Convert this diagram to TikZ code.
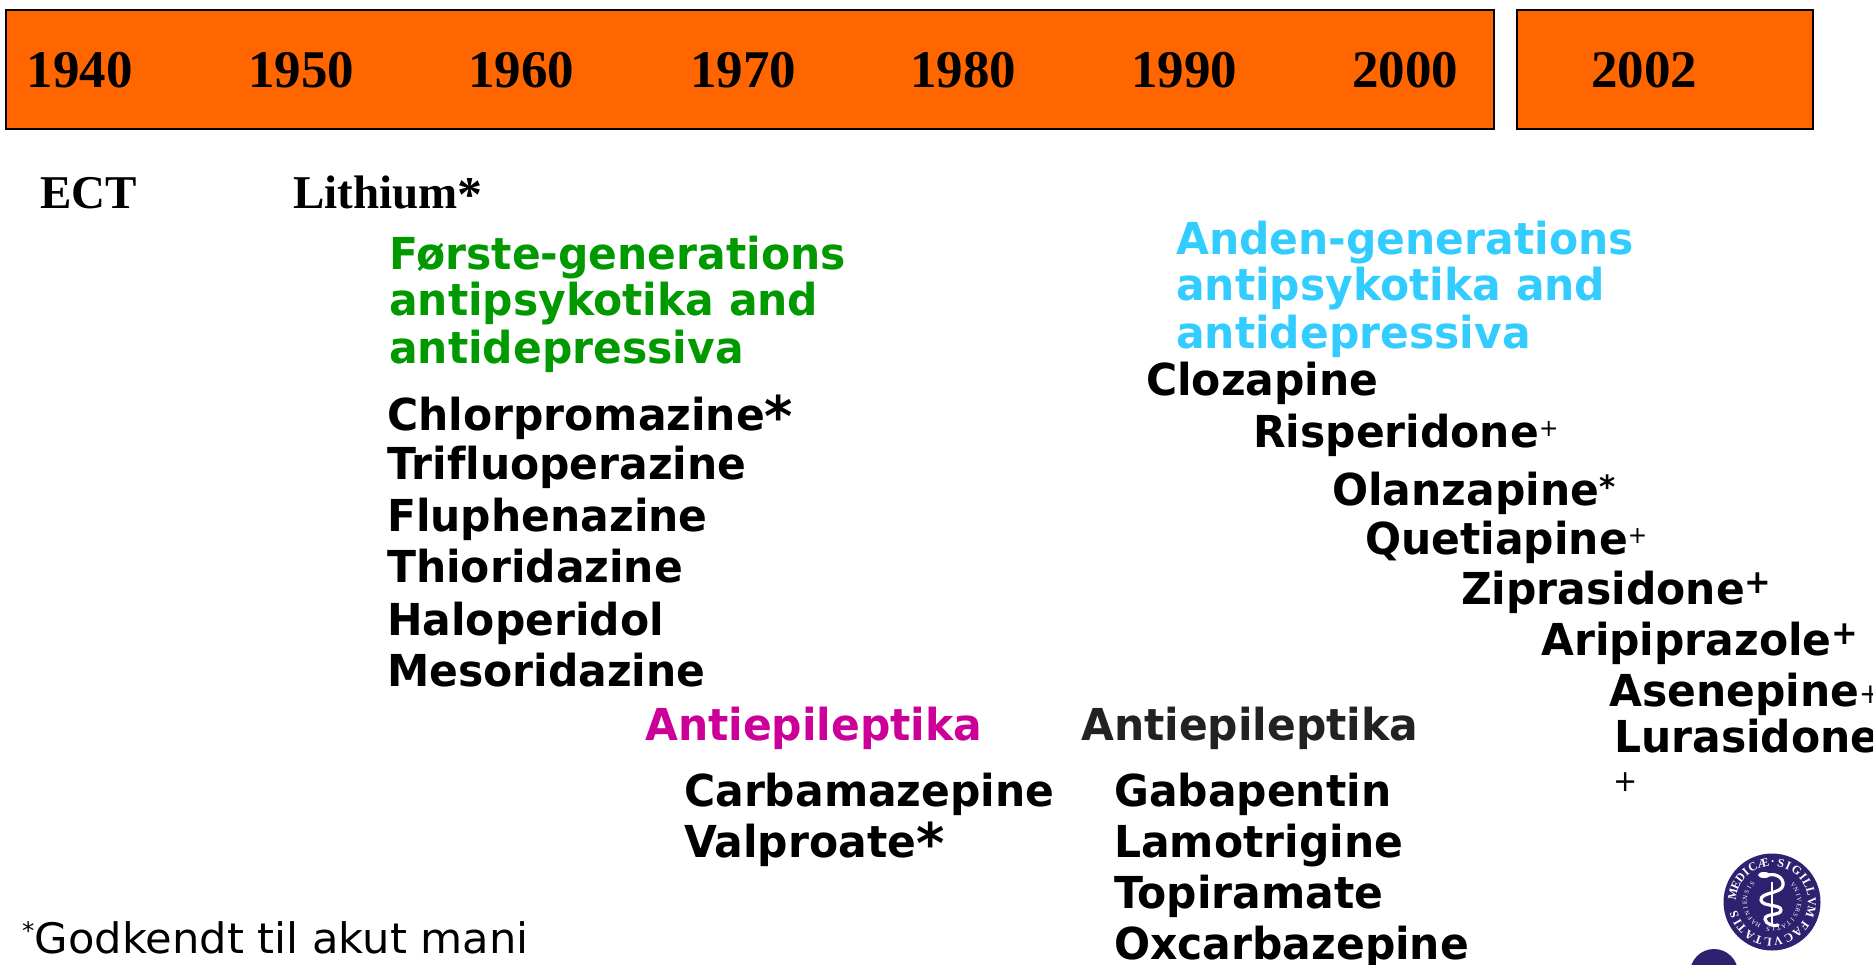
\documentclass[tikz,border=0pt]{standalone}
\usepackage{fontspec}
\setmainfont{DejaVu Sans}[RawFeature={-liga}]
\newfontfamily\timesfont{Liberation Serif}
\definecolor{barorange}{HTML}{FF6600}
\definecolor{firstgreen}{HTML}{009900}
\definecolor{secondblue}{HTML}{33CCFF}
\definecolor{epipink}{HTML}{CC0099}
\definecolor{epigrey}{HTML}{222222}
\definecolor{sealblue}{HTML}{2E2270}
\newcommand{\supplus}{\raisebox{11pt}{\fontsize{24}{24}\selectfont\mdseries +}}
\newcommand{\boldplus}{\raisebox{11pt}{\fontsize{33}{33}\selectfont +}}
\newcommand{\bigast}{\raisebox{-6pt}{\fontsize{56}{56}\selectfont *}}

\begin{document}
\begin{tikzpicture}[x=1pt, y=-1pt,
	yearbar/.style={draw=black, line width=2.5pt, fill=barorange},
	year/.style={anchor=base, inner sep=0pt, font=\timesfont\bfseries\fontsize{53}{53}\selectfont},
	early/.style={anchor=base west, inner sep=0pt, font=\timesfont\bfseries\fontsize{47}{47}\selectfont},
	drug/.style={anchor=base west, inner sep=0pt, xscale=0.965, font=\bfseries\fontsize{44}{44}\selectfont},
	sealletter/.style={anchor=base, inner sep=0pt, white, font=\timesfont\bfseries\fontsize{12}{12}\selectfont},
	sealsmall/.style={anchor=base, inner sep=0pt, white, font=\timesfont\fontsize{6.5}{6.5}\selectfont}]
	\useasboundingbox (0,0) rectangle (1873,964);
	
	% tidslinje
	\draw[yearbar] (6,10) rectangle (1494,129);
	\draw[yearbar] (1517,10) rectangle (1813,129);
	\node[year] (y1940) at (80,87) {1940};
	\node[year] (y1950) at (301,87) {1950};
	\node[year] (y1960) at (521,87) {1960};
	\node[year] (y1970) at (743,87) {1970};
	\node[year] (y1980) at (963,87) {1980};
	\node[year] (y1990) at (1184,87) {1990};
	\node[year] (y2000) at (1405,87) {2000};
	\node[year] (y2002) at (1644,87) {2002};
	
	% de tidlige behandlinger
	\node[early] (ect) at (40,208) {ECT};
	\node[early] (lithium) at (293,208) {Lithium\raisebox{-3pt}{\fontsize{50}{50}\selectfont *}};
	
	% foerste generation
	\node[drug, firstgreen] (first1) at (389,269) {Første-generations};
	\node[drug, firstgreen] (first2) at (389,315) {antipsykotika and};
	\node[drug, firstgreen] (first3) at (389,363) {antidepressiva};
	\node[drug] (chlor) at (387,430) {Chlorpromazine\bigast};
	\node[drug] (trifluo) at (387,479) {Trifluoperazine};
	\node[drug] (fluphen) at (387,531) {Fluphenazine};
	\node[drug] (thiorid) at (387,582) {Thioridazine};
	\node[drug] (halo) at (387,635) {Haloperidol};
	\node[drug] (meso) at (387,686) {Mesoridazine};
	
	% antiepileptika
	\node[drug, epipink] (epi1) at (645,740) {Antiepileptika};
	\node[drug] (carba) at (684,806) {Carbamazepine};
	\node[drug] (valpro) at (684,857) {Valproate\bigast};
	\node[drug, epigrey] (epi2) at (1081,740) {Antiepileptika};
	\node[drug] (gaba) at (1114,806) {Gabapentin};
	\node[drug] (lamo) at (1114,857) {Lamotrigine};
	\node[drug] (topi) at (1114,908) {Topiramate};
	\node[drug] (oxcarb) at (1114,959) {Oxcarbazepine};
	
	% anden generation
	\node[drug, secondblue] (second1) at (1176,254) {Anden-generations};
	\node[drug, secondblue] (second2) at (1176,300) {antipsykotika and};
	\node[drug, secondblue] (second3) at (1176,348) {antidepressiva};
	\node[drug] (cloza) at (1146,395) {Clozapine};
	\node[drug] (risper) at (1253,447) {Risperidone\supplus};
	\node[drug] (olanza) at (1332,505) {Olanzapine\raisebox{7pt}{\fontsize{32}{32}\selectfont *}};
	\node[drug] (quetia) at (1365,554) {Quetiapine\supplus};
	\node[drug] (zipra) at (1461,604) {Ziprasidone\boldplus};
	\node[drug] (aripi) at (1541,655) {Aripiprazole\boldplus};
	\node[drug] (aseni) at (1609,706) {Asenepine\raisebox{3pt}{\fontsize{28}{28}\selectfont\mdseries +}};
	\node[drug] (lura) at (1614,752) {Lurasidone};
	\node[drug, font=\mdseries\fontsize{30}{30}\selectfont] (luraplus) at (1613,791) {+};
	
	% fodnote
	\node[drug, xscale=1.067, font=\mdseries\fontsize{42}{42}\selectfont] (note) at (22,953) {\raisebox{14pt}{\fontsize{24}{24}\selectfont *}Godkendt til akut mani};
	
	% segl
	\fill[sealblue] (1714,973) circle (24);
	\begin{scope}[shift={(1772,902)}, x=1pt, y=1pt]
		\fill[sealblue] (0,0) circle (48.5);
		\foreach \c/\a [count=\i] in {M/169,E/155,D/142,I/131,C/119,Æ/103,·/89,S/77,I/66,G/52,I/39,L/28,L/15,V/1,M/-15,F/-36,A/-50,C/-65,V/-81,L/-96,T/-110,A/-124,T/-139,I/-150,S/-161}
			\node[sealletter, rotate=\a-90] (seal\i) at (\a:36) {\c};
		\foreach \c [count=\i] in {V,N,I,V,E,R,S,I,T,A,T,I,S,{},H,A,F,N,I,E,N,S,I,S}
			\node[sealsmall, rotate=50-11.4*\i-90] (inner\i) at ({50-11.4*\i}:25) {\c};
		\draw[white, line width=2.5pt] (0,20) -- (0,-22);
		\fill[white] (-8,27) ellipse (6 and 3);
		\draw[white, line width=3.2pt, line cap=round] (-6,26) .. controls (2,30) and (12,25) .. (11,17) .. controls (10,8) and (-12,10) .. (-11,2) .. controls (-10,-5) and (9,-2) .. (9,-8) .. controls (9,-14) and (-7,-11) .. (-7,-17) .. controls (-7,-22) and (3,-25) .. (6,-23);
	\end{scope}
\end{tikzpicture}
\end{document}
